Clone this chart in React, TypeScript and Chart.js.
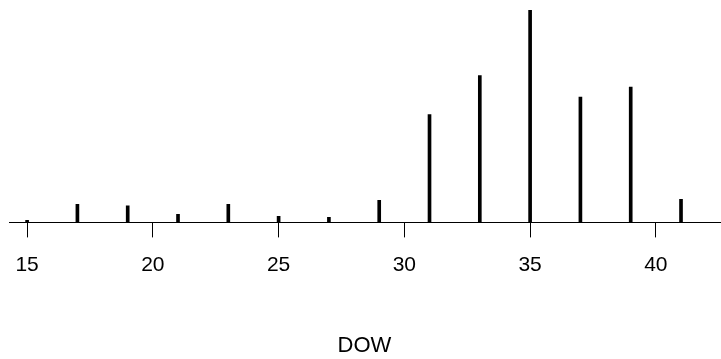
import React, { useEffect, useRef } from "react";
import { Chart, registerables } from "chart.js";

Chart.register(...registerables);

const dowValues = [15, 17, 19, 21, 23, 25, 27, 29, 31, 33, 35, 37, 39, 41];
const counts = [2, 18, 16.5, 8, 18, 6, 5, 22, 107.5, 146.5, 212, 125, 135, 23];
const tickValues = [15, 20, 25, 30, 35, 40];
const axisTitle = "DOW";

export default function App() {
  const ref = useRef<HTMLCanvasElement | null>(null);

  useEffect(() => {
    document.body.style.margin = "0";
    const canvas = ref.current;
    if (!canvas) return;
    const chart = new Chart(canvas, {
      type: "bar",
      data: {
        datasets: [
          {
            data: dowValues.map((x, i) => ({ x, y: counts[i] })),
            backgroundColor: "#000000",
            borderWidth: 0,
            barThickness: 3,
          },
        ],
      },
      options: {
        responsive: false,
        animation: false,
        layout: { padding: { left: 9, right: 1, top: 10, bottom: 0 } },
        plugins: { legend: { display: false }, tooltip: { enabled: false } },
        scales: {
          x: {
            type: "linear",
            min: 14.28,
            max: 42.55,
            offset: false,
            afterBuildTicks: (scale: any) => {
              scale.ticks = tickValues.map((v) => ({ value: v }));
            },
            grid: {
              offset: false,
              drawOnChartArea: false,
              drawTicks: true,
              tickLength: 15,
              color: "#000000",
              lineWidth: 1,
            },
            border: { display: true, color: "#000000", width: 1 },
            ticks: {
              autoSkip: false,
              maxRotation: 0,
              padding: 15,
              color: "#000000",
              font: { family: "Liberation Sans, Arial, sans-serif", size: 21 },
            },
            title: {
              display: true,
              text: axisTitle,
              color: "#000000",
              font: { family: "Liberation Sans, Arial, sans-serif", size: 22 },
              padding: { top: 40, bottom: 0 },
            },
          },
          y: {
            display: false,
            min: 0,
            max: 212,
          },
        },
      },
    });
    return () => chart.destroy();
  }, []);

  return (
    <div style={{ position: "absolute", left: 0, top: 0, width: 721, height: 359 }}>
      <canvas ref={ref} width={721} height={359} style={{ display: "block" }} />
    </div>
  );
}
